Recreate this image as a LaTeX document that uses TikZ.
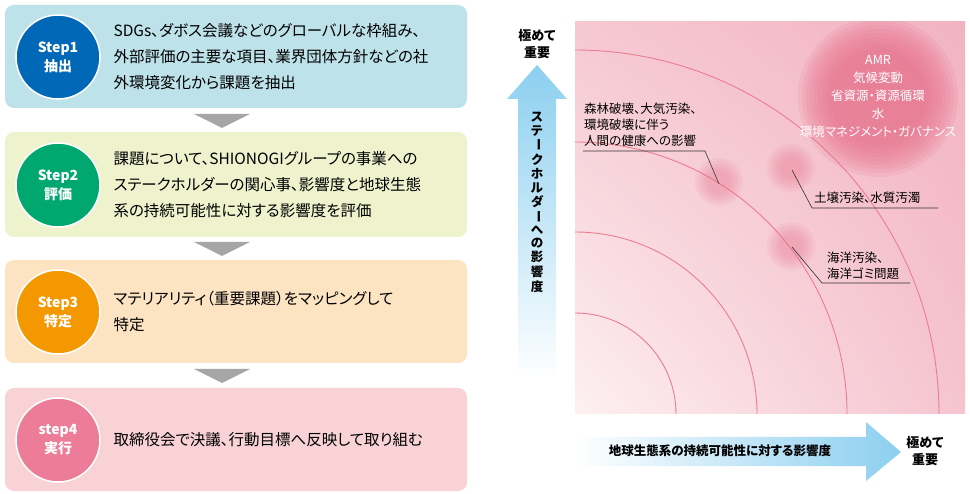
\documentclass[tikz,border=0pt]{standalone}
\usepackage{fontspec}
\setmainfont[RawFeature=+palt]{Noto Sans CJK JP}
\usetikzlibrary{fadings,shadings}
\definecolor{boxA}{HTML}{BEE2EA}
\definecolor{boxB}{HTML}{EEF2CD}
\definecolor{boxC}{HTML}{FCE3C2}
\definecolor{boxD}{HTML}{F8D2D5}
\definecolor{dotA}{HTML}{0068B7}
\definecolor{dotB}{HTML}{00A870}
\definecolor{dotC}{HTML}{F39800}
\definecolor{dotD}{HTML}{EC7C97}
\definecolor{arcred}{HTML}{EA7D90}
\definecolor{blobred}{HTML}{E8708C}
\definecolor{skyblue}{HTML}{8CCFF0}
\definecolor{mapLL}{HTML}{FDF0F2}
\definecolor{mapUR}{HTML}{F2B3C1}
\definecolor{mapLR}{HTML}{F5C4CF}
\definecolor{mapUL}{HTML}{F6C8D1}
\begin{document}
\begin{tikzpicture}
        [x=1pt, y=-1pt,
        stepbox/.style={rounded corners=9pt},
        badge/.style={circle, draw=white, line width=1.5pt, minimum size=84pt, text=white, font=\bfseries\fontsize{14}{19}\selectfont, align=center},
        body/.style={anchor=west, align=left, font=\fontsize{15.5}{26}\selectfont, text width=350pt},
        downtri/.style={fill=gray!70},
        ring/.style={arcred, line width=0.9pt},
        blob/.style={blobred, fill opacity=0.14},
        lead/.style={black!80, line width=0.6pt},
        issue/.style={anchor=south west, align=left, font=\fontsize{12.5}{16}\selectfont, inner sep=1pt},
        axistext/.style={font=\bfseries\fontsize{13}{17}\selectfont, align=center}]

        \useasboundingbox (0,0) rectangle (970,494);

        % steps
        \fill[stepbox, boxA] (5,5) rectangle (467,108);
        \fill[stepbox, boxB] (5,132) rectangle (467,237);
        \fill[stepbox, boxC] (5,260) rectangle (467,363);
        \fill[stepbox, boxD] (5,388) rectangle (467,491);
        \node[badge, fill=dotA] (s1) at (58,57) {Step1\\抽出};
        \node[badge, fill=dotB] (s2) at (58,185) {Step2\\評価};
        \node[badge, fill=dotC] (s3) at (58,312) {Step3\\特定};
        \node[badge, fill=dotD] (s4) at (58,440) {step4\\実行};
        \node[body] (t1) at (110,57) {SDGs、ダボス会議などのグローバルな枠組み、\\外部評価の主要な項目、業界団体方針などの社\\外環境変化から課題を抽出};
        \node[body] (t2) at (110,185) {課題について、SHIONOGIグループの事業への\\ステークホルダーの関心事、影響度と地球生態\\系の持続可能性に対する影響度を評価};
        \node[body] (t3) at (110,312) {マテリアリティ（重要課題）をマッピングして\\特定};
        \node[body] (t4) at (110,440) {取締役会で決議、行動目標へ反映して取り組む};
        \foreach \y in {114,242,369}
            \fill[downtri] (194,\y) -- (250,\y) -- (222,\y+14) -- cycle;

        % map
        \shade[lower left=mapLL, upper right=mapUR, lower right=mapLR, upper left=mapUL]
            (575,22) rectangle (965,414);
        \begin{scope}
            \clip (575,22) rectangle (965,414);
            \foreach \r in {101,182,272,364}
                \draw[ring] (575,414) circle (\r);
            \foreach \r in {48,52,...,80}
                \fill[blob] (878,97) circle (\r);
        \end{scope}
        \foreach \c in {(719,182),(791,168),(791,246)}
            \foreach \r in {12,15,...,24}
                \fill[blob, fill opacity=0.09] \c circle (\r);
        \node[font=\fontsize{12.5}{18}\selectfont, text=white, align=center, inner sep=0pt] (amr) at (878,96)
            {AMR\\気候変動\\省資源・資源循環\\水\\環境マネジメント・ガバナンス};

        \coordinate (p1) at (719,184);
        \coordinate (p2) at (792,170);
        \coordinate (p3) at (792,247);
        \node[issue] (i1) at (583,148) {森林破壊、大気汚染、\\環境破壊に伴う\\人間の健康への影響};
        \node[issue] (i2) at (813,205) {土壌汚染、水質汚濁};
        \node[issue] (i3) at (826,281) {海洋汚染、\\海洋ゴミ問題};
        \draw[lead] (583,151) -- (705,151) -- (p1);
        \draw[lead] (938,208) -- (812,208) -- (p2);
        \draw[lead] (910,283) -- (822,283) -- (p3);

        % axes
        \shade[top color=skyblue, bottom color=white]
            (518,380) -- (518,99) -- (507,99) -- (537,65) -- (567,99) -- (556,99) -- (556,380) -- cycle;
        \shade[left color=white, right color=skyblue]
            (575,437) -- (866,437) -- (866,422) -- (901,452) -- (866,481) -- (866,466) -- (575,466) -- cycle;
        \node[axistext] (ytop) at (537,44) {極めて\\重要};
        \node[axistext] (xend) at (925,451) {極めて\\重要};
        \node[axistext, font=\bfseries\fontsize{12.5}{16}\selectfont] (xlab) at (720,451) {地球生態系の持続可能性に対する影響度};
        \node[font=\bfseries\fontsize{12.5}{14}\selectfont, align=center, inner sep=0pt, anchor=north] (ylab) at (537,112)
            {\shortstack{ス\\テ\\\rotatebox{-90}{ー}\\ク\\ホ\\ル\\ダ\\\rotatebox{-90}{ー}\\へ\\の\\影\\響\\度}};
\end{tikzpicture}
\end{document}
